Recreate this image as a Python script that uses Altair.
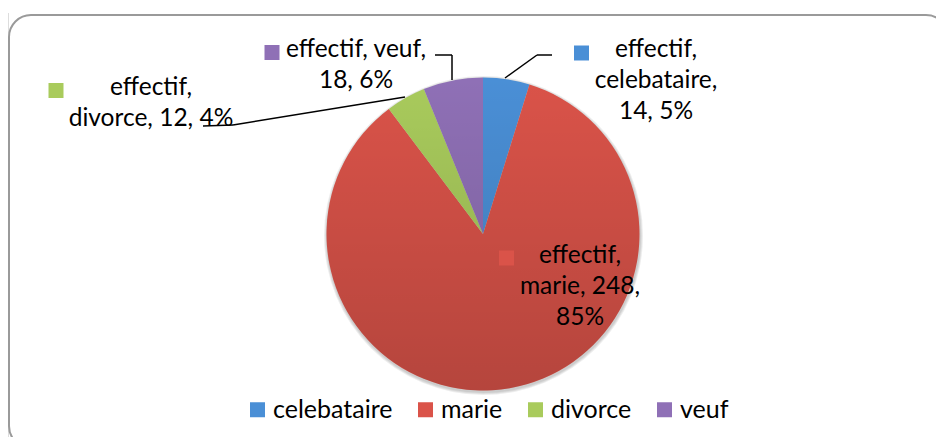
import altair as alt
import pandas as pd

# ---- data ----
categories = ["celebataire", "marie", "divorce", "veuf"]
values = [14, 248, 12, 18]
percents = [5, 85, 4, 6]
colors = ["#4A8FD6", "#DA5349", "#A9CB5C", "#8F70B6"]
series_name = "effectif"

df = pd.DataFrame({"cat": categories, "value": values, "pct": percents,
                   "idx": list(range(len(categories)))})

# ---- layout (page px minus 8px margin) ----
W, H = 928, 429
CX, CY, R = 475, 226, 156.5
FONT = "Lato"
FS = 24.5

color_scale = alt.Scale(domain=categories, range=colors)

def label_lines(i, pattern):
    toks = [series_name + ",", categories[i] + ",", f"{values[i]},", f"{percents[i]}%"]
    return [" ".join(toks[a:b]) for a, b in pattern]

label_layout = {
    "celebataire": dict(pattern=[(0, 1), (1, 2), (2, 4)], x=648, y=49, sq=(566, 37.5)),
    "marie": dict(pattern=[(0, 1), (1, 3), (3, 4)], x=572, y=255, sq=(491, 242.5)),
    "divorce": dict(pattern=[(0, 1), (1, 4)], x=143, y=87, sq=(40.5, 75)),
    "veuf": dict(pattern=[(0, 2), (2, 4)], x=348, y=49, sq=(256.5, 37)),
}

leaders = [
    [(497, 70), (529, 47), (544, 47)],
    [(427, 47), (444, 47), (444, 72)],
    [(195, 118), (225, 117), (397, 89)],
]

one = pd.DataFrame({"a": [0]})

frame = alt.Chart(one).mark_rect(
    fill="white", stroke="#9a9a9a", strokeWidth=2, cornerRadius=22
).encode(x=alt.value(1), x2=alt.value(940), y=alt.value(7), y2=alt.value(440))

shadows = [
    alt.Chart(one).mark_arc(outerRadius=R + k, theta=0, theta2=6.2832,
                            fill="#000000", fillOpacity=0.07)
    .encode(x=alt.value(CX + 0.5), y=alt.value(CY + 1.5))
    for k in (3, 2, 1)
]

pie = alt.Chart(df).mark_arc(outerRadius=R).encode(
    theta=alt.Theta("value:Q", stack=True),
    order=alt.Order("idx:Q", sort="ascending"),
    color=alt.Color("cat:N", scale=color_scale, sort=categories,
                    legend=alt.Legend(
                        title=None, orient="none", direction="horizontal",
                        legendX=237, legendY=389, symbolType="square",
                        symbolSize=225, symbolStrokeWidth=0, labelFont=FONT,
                        labelFontSize=25, labelColor="black", labelOffset=3,
                        columnPadding=20, symbolOpacity=1)),
    x=alt.value(CX), y=alt.value(CY),
)

shade = alt.Chart(one).mark_arc(
    outerRadius=R, theta=0, theta2=6.2832,
    fill=alt.LinearGradient(gradient="linear", x1=0, y1=0, x2=0, y2=1,
                            stops=[alt.GradientStop(offset=0, color="rgba(0,0,0,0)"),
                                   alt.GradientStop(offset=1, color="rgba(0,0,0,0.17)")])
).encode(x=alt.value(CX), y=alt.value(CY))

layers = [frame] + shadows + [pie, shade]

for i, cat in enumerate(categories):
    lay = label_layout[cat]
    lines = label_lines(i, lay["pattern"])
    txt = alt.Chart(one).mark_text(
        font=FONT, fontSize=FS, color="black", align="center",
        baseline="alphabetic", lineHeight=31
    ).encode(text=alt.value(lines), x=alt.value(lay["x"]), y=alt.value(lay["y"]))
    sq = alt.Chart(df).transform_filter(alt.datum.cat == cat).mark_square(
        size=225, opacity=1, strokeWidth=0
    ).encode(color=alt.Color("cat:N", scale=color_scale, legend=None),
             x=alt.value(lay["sq"][0] + 7.5), y=alt.value(lay["sq"][1] + 7.5))
    layers += [txt, sq]

for seg in leaders:
    for (x1, y1), (x2, y2) in zip(seg[:-1], seg[1:]):
        layers.append(alt.Chart(one).mark_rule(
            color="black", strokeWidth=1.5
        ).encode(x=alt.value(x1), y=alt.value(y1), x2=alt.value(x2), y2=alt.value(y2)))

# white band over the very top of the canvas
layers.append(alt.Chart(one).mark_rect(fill="white", strokeWidth=0).encode(
    x=alt.value(-2), x2=alt.value(W + 2), y=alt.value(-2), y2=alt.value(5)))

chart = alt.layer(*layers).properties(
    width=W, height=H, padding=0, autosize=alt.AutoSizeParams(type="none")
).configure_view(strokeWidth=0, stroke="transparent").configure(background="white")

chart.save("out.html", embed_options={"renderer": "svg", "actions": False})
